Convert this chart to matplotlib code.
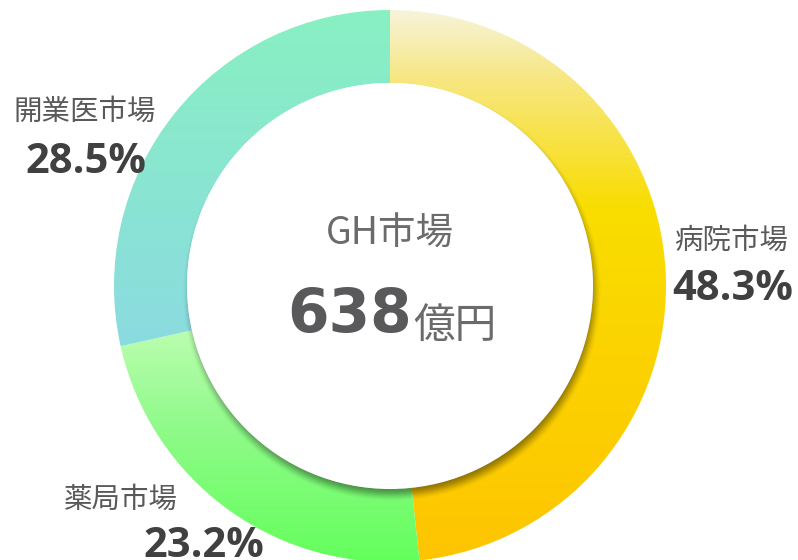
import numpy as np
import matplotlib
matplotlib.use("Agg")
import matplotlib.pyplot as plt
from matplotlib.patches import Circle
from matplotlib.colors import LinearSegmentedColormap

plt.rcParams['font.family'] = ['Noto Sans CJK JP', 'DejaVu Sans']

# data
segments = ["病院市場", "薬局市場", "開業医市場"]
shares = [48.3, 23.2, 28.5]
total_label = "638"
total_unit = "億円"
center_title = "GH市場"

# vertical gradients per segment (top -> bottom), (position, colour)
gradients = [
    [(0.0, "#F6F4DA"), (0.12, "#F7E784"), (0.36, "#F9DD00"), (1.0, "#FEC500")],
    [(0.0, "#CEFFC0"), (0.5, "#90FA8A"), (1.0, "#62FF5A")],
    [(0.0, "#88F0C2"), (1.0, "#8BDBE0")],
]

W, H = 798, 560
cx, cy = 390, 560 - 286
R, r = 276, 203

fig = plt.figure(figsize=(W / 100, H / 100), dpi=100)
ax = fig.add_axes([0, 0, 1, 1])

wedges, _ = ax.pie(shares, center=(cx, cy), radius=R, startangle=90,
                   counterclock=False, wedgeprops=dict(width=R - r, linewidth=0))

for w, cols in zip(wedges, gradients):
    w.set_facecolor("none")
    v = w.get_path().vertices
    ytop, ybot = v[:, 1].max(), v[:, 1].min()
    cmap = LinearSegmentedColormap.from_list("g", cols)
    grad = np.linspace(0, 1, 256).reshape(-1, 1)
    im = ax.imshow(grad, cmap=cmap, aspect="auto", origin="upper",
                   extent=[cx - R, cx + R, ybot, ytop], zorder=1,
                   interpolation="bilinear")
    im.set_clip_path(w)

# drop shadow of the centre disc on the ring
xs = np.arange(0, W) + 0.5
ys = np.arange(0, H) + 0.5
X, Y = np.meshgrid(xs, ys)
d = np.hypot(X - (cx + 2), Y - (cy - 6))
blur = 7.0
t = np.clip((r + blur - d) / (2 * blur), 0, 1)
alpha = 0.42 * t * t * (3 - 2 * t)
shadow = np.zeros((H, W, 4))
shadow[..., 3] = alpha
sh = ax.imshow(shadow, extent=[0, W, 0, H], origin="lower", zorder=2,
               interpolation="bilinear")
sh.set_clip_path(Circle((cx, cy), R, transform=ax.transData))

ax.add_patch(Circle((cx, cy), r, facecolor="white", edgecolor="none", zorder=3))

# centre texts
ax.text(cx, H - 234, center_title, ha="center", va="center", fontsize=27,
        color="#6B6B6B", zorder=4)
ax.text(412, H - 332, total_label, ha="right", va="baseline", fontsize=43,
        fontweight="bold", family=["DejaVu Sans"], color="#59595B", zorder=4)
ax.text(413, H - 338, total_unit, ha="left", va="baseline", fontsize=30,
        color="#6B6B6B", zorder=4)

# segment labels
label_pos = [(731, 241, 733, 300), (121, 500, 204, 557), (85, 112, 86, 173)]
for name, val, (lx, ly, px, py) in zip(segments, shares, label_pos):
    ax.text(lx, H - ly, name, ha="center", va="center", fontsize=20.5,
            color="#595959", zorder=4)
    ax.text(px, H - py, f"{val:.1f}%", ha="center", va="baseline", fontsize=30,
            fontweight="bold", family=["Open Sans", "DejaVu Sans"], color="#404040", zorder=4)

ax.set_xlim(0, W)
ax.set_ylim(0, H)
ax.set_aspect("auto")
ax.axis("off")

fig.savefig("out.png", dpi=100)
